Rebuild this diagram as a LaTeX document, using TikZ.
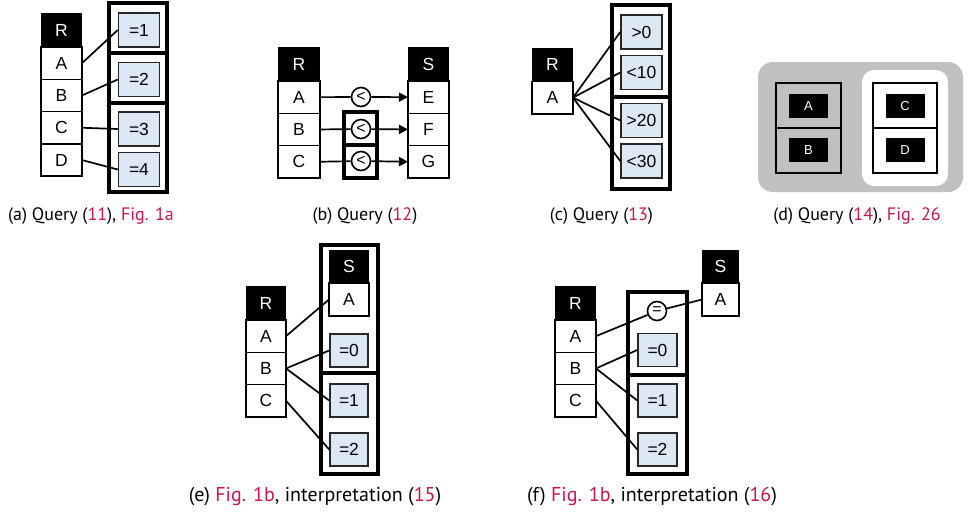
\documentclass[tikz,border=0pt]{standalone}
\usepackage{fontspec}
\usepackage{xcolor}
\usetikzlibrary{arrows.meta, positioning}
\setmainfont{Liberation Sans}
\newfontfamily\capfont{PT Sans}
\definecolor{CondBlue}{HTML}{DDE8F5}
\definecolor{RefRed}{HTML}{C8154E}
\definecolor{PanelGray}{HTML}{C0C0C0}
\newcommand{\refred}[1]{\textcolor{RefRed}{#1}}
\tikzset{
  hdr/.style={rectangle, fill=black, text=white, minimum width=41pt, minimum height=34pt,
              inner sep=0pt, outer sep=0pt, font=\fontsize{17.5}{18}\selectfont},
  cell/.style={rectangle, draw, fill=white, line width=1.5pt, minimum width=41pt,
               minimum height=32.3pt, inner sep=0pt, outer sep=0pt, font=\fontsize{17.5}{18}\selectfont},
  cnd/.style={rectangle, draw=black!85, fill=CondBlue, line width=1.5pt, minimum width=41pt,
              minimum height=34pt, inner sep=0pt, font=\fontsize{17.5}{18}\selectfont},
  grp/.style={line width=3.6pt},
  op/.style={circle, draw, fill=white, line width=1.6pt, minimum size=19pt, inner sep=0pt,
             font=\fontsize{16}{16}\selectfont},
  link/.style={line width=1.7pt},
  tag/.style={rectangle, fill=black, text=white, minimum width=39pt, minimum height=24pt,
              inner sep=0pt, font=\fontsize{13}{13}\selectfont},
  captext/.style={font=\capfont\fontsize{18}{20}\selectfont}
}

\begin{document}
\begin{tikzpicture}[x=1pt, y=-1pt]
    \useasboundingbox (0,0) rectangle (970,523);

    % (a) one relation, conditions in three groups
    \node[hdr] (aR) at (61.5,30) {R};
    \node[cell, below=0pt of aR] (aA) {A};
    \node[cell, below=0pt of aA] (aB) {B};
    \node[cell, below=0pt of aB] (aC) {C};
    \node[cell, below=0pt of aC] (aD) {D};
    \draw[grp] (109,3) rectangle (167,53);
    \draw[grp] (109,53) rectangle (167,103);
    \draw[grp] (109,103) rectangle (167,192);
    \node[cnd] (a1) at (139,30) {=1};
    \node[cnd] (a2) at (139,79.5) {=2};
    \node[cnd] (a3) at (139,129) {=3};
    \node[cnd] (a4) at (139,169.5) {=4};
    \draw[link] (aA.east) -- (a1.west);
    \draw[link] (aB.east) -- (a2.west);
    \draw[link] (aC.east) -- (a3.west);
    \draw[link] (aD.east) -- (a4.west);

    % (b) comparisons between two relations
    \node[hdr, minimum width=42pt] (bR) at (299,64) {R};
    \node[cell, minimum width=42pt, below=0pt of bR] (bA) {A};
    \node[cell, minimum width=42pt, below=0pt of bA] (bB) {B};
    \node[cell, minimum width=42pt, below=0pt of bB] (bC) {C};
    \node[hdr] (bS) at (428.5,64) {S};
    \node[cell, below=0pt of bS] (bE) {E};
    \node[cell, below=0pt of bE] (bF) {F};
    \node[cell, below=0pt of bF] (bG) {G};
    \draw[grp] (344,112) rectangle (377,145);
    \draw[grp] (344,145) rectangle (377,178);
    \node[op] (ltA) at (361,97) {<};
    \node[op] (ltB) at (361,129) {<};
    \node[op] (ltC) at (361,161) {<};
    \foreach \r/\s/\o in {bA/bE/ltA, bB/bF/ltB, bC/bG/ltC} {
        \draw[link] (\r.east) -- (\o);
        \draw[link, -{Triangle[length=9pt, width=9pt]}] (\o) -- (\s.west);
    }

    % (c) one attribute, four ranges
    \node[hdr] (cR) at (552.5,64.5) {R};
    \node[cell, below=0pt of cR] (cA) {A};
    \draw[grp] (612,5) rectangle (670,97);
    \draw[grp] (612,97) rectangle (670,189);
    \node[cnd] (c1) at (641.5,32) {>0};
    \node[cnd] (c2) at (641.5,72.5) {<10};
    \node[cnd] (c3) at (641.5,120.5) {>20};
    \node[cnd] (c4) at (641.5,161) {<30};
    \foreach \c in {c1,c2,c3,c4}
        \draw[link] (cA.east) -- (\c.west);

    % (d) nested grouping
    \fill[PanelGray, rounded corners=15pt] (758,62) rectangle (963,192);
    \fill[white, rounded corners=12pt] (862,70) rectangle (948,186);
    \draw[line width=1.8pt] (776,83) rectangle (841,128);
    \draw[line width=1.8pt] (776,128) rectangle (841,173);
    \draw[line width=1.8pt] (873,83) rectangle (937,128);
    \draw[line width=1.8pt] (873,128) rectangle (937,173);
    \node[tag] (dA) at (808.5,106) {A};
    \node[tag] (dB) at (808.5,150) {B};
    \node[tag] (dC) at (905,106) {C};
    \node[tag] (dD) at (905,150) {D};

    % (e) S inside the group
    \node[hdr, minimum width=40pt] (eR) at (266,303) {R};
    \node[cell, minimum width=40pt, below=0pt of eR] (eA) {A};
    \node[cell, minimum width=40pt, below=0pt of eA] (eB) {B};
    \node[cell, minimum width=40pt, below=0pt of eB] (eC) {C};
    \draw[grp] (321,245) rectangle (378,373);
    \draw[grp] (321,373) rectangle (378,474);
    \node[hdr, minimum width=40pt, minimum height=33pt] (eS) at (349,266.5) {S};
    \node[cell, minimum width=40pt, minimum height=33pt, below=0pt of eS] (eSA) {A};
    \node[cnd, minimum width=38pt, minimum height=33pt] (e0) at (349,350.5) {=0};
    \node[cnd, minimum width=38pt, minimum height=33pt] (e1) at (349,400.5) {=1};
    \node[cnd, minimum width=38pt, minimum height=33pt] (e2) at (349,449.5) {=2};
    \draw[link] (eA.east) -- (eSA.west);
    \draw[link] (eB.east) -- (e0.west);
    \draw[link] (eB.east) -- (e1.west);
    \draw[link] (eC.east) -- (e2.west);

    % (f) S outside, join predicate in the group
    \node[hdr] (fR) at (575.5,303) {R};
    \node[cell, below=0pt of fR] (fA) {A};
    \node[cell, below=0pt of fA] (fB) {B};
    \node[cell, below=0pt of fB] (fC) {C};
    \draw[grp] (628,292) rectangle (687,375);
    \draw[grp] (628,375) rectangle (687,474);
    \node[hdr, minimum width=37pt, minimum height=33pt] (fS) at (720.5,266.5) {S};
    \node[cell, minimum width=37pt, minimum height=33pt, below=0pt of fS] (fSA) {A};
    \node[op] (feq) at (657,311) {=};
    \node[cnd, minimum width=39pt, minimum height=33pt] (f0) at (657.5,350) {=0};
    \node[cnd, minimum width=39pt, minimum height=33pt] (f1) at (657.5,400.5) {=1};
    \node[cnd, minimum width=39pt, minimum height=33pt] (f2) at (657.5,449.5) {=2};
    \draw[link] (fA.east) -- (feq);
    \draw[link] (feq) -- (fSA.west);
    \draw[link] (fB.east) -- (f0.west);
    \draw[link] (fB.east) -- (f1.west);
    \draw[link] (fC.east) -- (f2.west);

    % captions
    \node[captext] (capA) at (91,216) {(a) Query (\refred{11}), \refred{Fig. 1a}};
    \node[captext] (capB) at (365,216) {(b) Query (\refred{12})};
    \node[captext] (capC) at (601.5,216) {(c) Query (\refred{13})};
    \node[captext] (capD) at (857,216) {(d) Query (\refred{14}), \refred{Fig. 26}};
    \node[captext, font=\capfont\fontsize{20}{22}\selectfont] (capE) at (315,497)
        {(e) \refred{Fig. 1b}, interpretation (\refred{15})};
    \node[captext, font=\capfont\fontsize{20}{22}\selectfont] (capF) at (652,497)
        {(f) \refred{Fig. 1b}, interpretation (\refred{16})};
\end{tikzpicture}
\end{document}
